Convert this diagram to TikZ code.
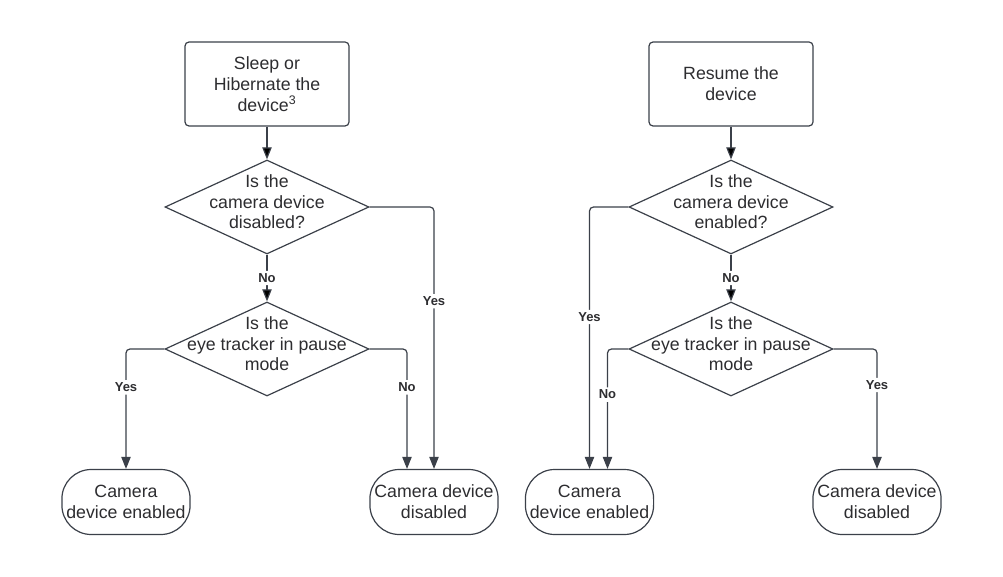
\documentclass[tikz,border=0pt]{standalone}
\usepackage{fontspec}
\setmainfont{Liberation Sans}
\usetikzlibrary{shapes.geometric, arrows.meta, calc}
\definecolor{linegray}{RGB}{59,64,73}
\definecolor{textgray}{RGB}{45,45,48}
% question text of a decision, kept out of the diamond's size
\newcommand{\dtext}[1]{\makebox[0pt]{\raisebox{-2.5pt}{\smash{\begin{tabular}{@{}c@{}}#1\end{tabular}}}}}
\tikzset{
>={Triangle[length=9pt, width=7pt]}, % filled arrow heads
process/.style={rectangle, draw=linegray, line width=0.9pt, rounded corners=3pt, minimum width=123pt, minimum height=63pt, align=center}, % action boxes
decision/.style={diamond, draw=linegray, line width=0.9pt, minimum width=153pt, minimum height=70.5pt, inner sep=0pt}, % question diamonds
terminal/.style={rectangle, draw=linegray, line width=0.9pt, rounded corners=22pt, minimum width=96pt, minimum height=48.75pt, align=center}, % end states
answer/.style={fill=white, inner sep=2pt, font=\bfseries\fontsize{9.75}{11}\selectfont}, % Yes / No on the links
link/.style={->, draw=linegray, line width=0.9pt, rounded corners=3pt}, % connectors
}

\begin{document}
\begin{tikzpicture}[x=0.75pt, y=-0.75pt, every node/.append style={text=textgray, font=\fontsize{13.3}{15.6}\selectfont}]
  \useasboundingbox (0,0) rectangle (1003,577);

  % Sleep / hibernate
  \node[process] (sl) at (267,84) {Sleep or\\Hibernate the\\device\textsuperscript{3}};
  \node[decision] (d1) at (267,207) {\dtext{Is the\\camera device\\disabled?}};
  \node[decision] (d2) at (267,349) {\dtext{Is the\\eye tracker in pause\\mode}};
  \node[terminal] (en1) at (126,502) {Camera\\device enabled};
  \node[terminal] (dis1) at (434,502) {Camera device\\disabled};

  % Resume
  \node[process] (rs) at (731,84) {Resume the\\device};
  \node[decision] (d3) at (731,207) {\dtext{Is the\\camera device\\enabled?}};
  \node[decision] (d4) at (731,349) {\dtext{Is the\\eye tracker in pause\\mode}};
  \node[terminal] (en2) at (589.5,502) {Camera\\device enabled};
  \node[terminal] (dis2) at (877,502) {Camera device\\disabled};

  % Links
  \path[link]
    (sl) edge (d1)
    (d1) edge node[answer] {No} (d2)
    (rs) edge (d3)
    (d3) edge node[answer] {No} (d4);
  \draw[link] (d1.east) -| node[answer, pos=0.68] {Yes} (dis1.north);
  \draw[link] (d2.west) -| node[answer, pos=0.66] {Yes} (en1.north);
  \draw[link] (d2.east) -| node[answer, pos=0.66] {No} ($(dis1.north)+(-27,0)$);
  \draw[link] (d3.west) -| node[answer, pos=0.71] {Yes} (en2.north);
  \draw[link] (d4.west) -| node[answer, pos=0.69] {No} ($(en2.north)+(18,0)$);
  \draw[link] (d4.east) -| node[answer, pos=0.65] {Yes} (dis2.north);
\end{tikzpicture}
\end{document}
